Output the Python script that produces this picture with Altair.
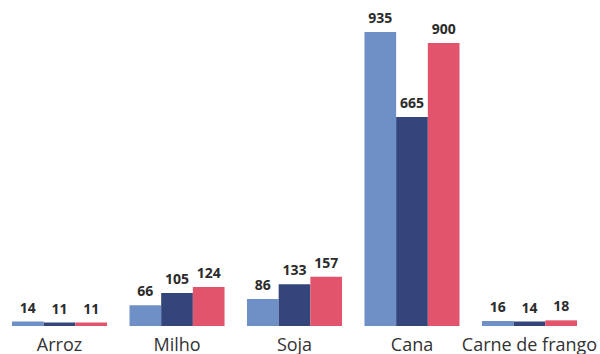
import altair as alt
import pandas as pd

categorias = ["Arroz", "Milho", "Soja", "Cana", "Carne de frango"]
serie_1 = [14, 66, 86, 935, 16]
serie_2 = [11, 105, 133, 665, 14]
serie_3 = [11, 124, 157, 900, 18]
series_nomes = ["Série 1", "Série 2", "Série 3"]
cores = ["#6f8fc7", "#33457a", "#e2546c"]

rows = []
for nome, vals in zip(series_nomes, [serie_1, serie_2, serie_3]):
    for c, v in zip(categorias, vals):
        rows.append({"cultura": c, "serie": nome, "valor": v})
df = pd.DataFrame(rows)

x = alt.X(
    "cultura:N",
    sort=categorias,
    scale=alt.Scale(paddingInner=0.191, paddingOuter=0.149, align=0.343),
    axis=alt.Axis(
        title=None, labelAngle=0, domain=False, ticks=False,
        labelFont="Open Sans", labelFontSize=18, labelColor="#333333",
        labelPadding=24, labelBaseline="alphabetic", labelOverlap=False,
    ),
)
xo = alt.XOffset("serie:N", sort=series_nomes,
                 scale=alt.Scale(paddingInner=0, paddingOuter=0))
y = alt.Y("valor:Q", scale=alt.Scale(domain=[0, 1037], nice=False, zero=True), axis=None)
color = alt.Color("serie:N", scale=alt.Scale(domain=series_nomes, range=cores), legend=None)

bars = alt.Chart(df).mark_bar().encode(x=x, xOffset=xo, y=y, color=color)
text = alt.Chart(df).mark_text(
    baseline="alphabetic", dy=-9, font="Open Sans", fontWeight="bold",
    fontSize=14, color="#2b2b2b",
).encode(x=x, xOffset=xo, y=y, text="valor:Q")

chart = (
    alt.layer(bars, text)
    .properties(
        width=600, height=326,
        autosize=alt.AutoSizeParams(type="none"),
        padding={"left": 0, "top": 0, "right": 0, "bottom": 28},
    )
    .configure_view(stroke=None)
)
chart.save("out.html", embed_options={"renderer": "svg", "actions": False})
